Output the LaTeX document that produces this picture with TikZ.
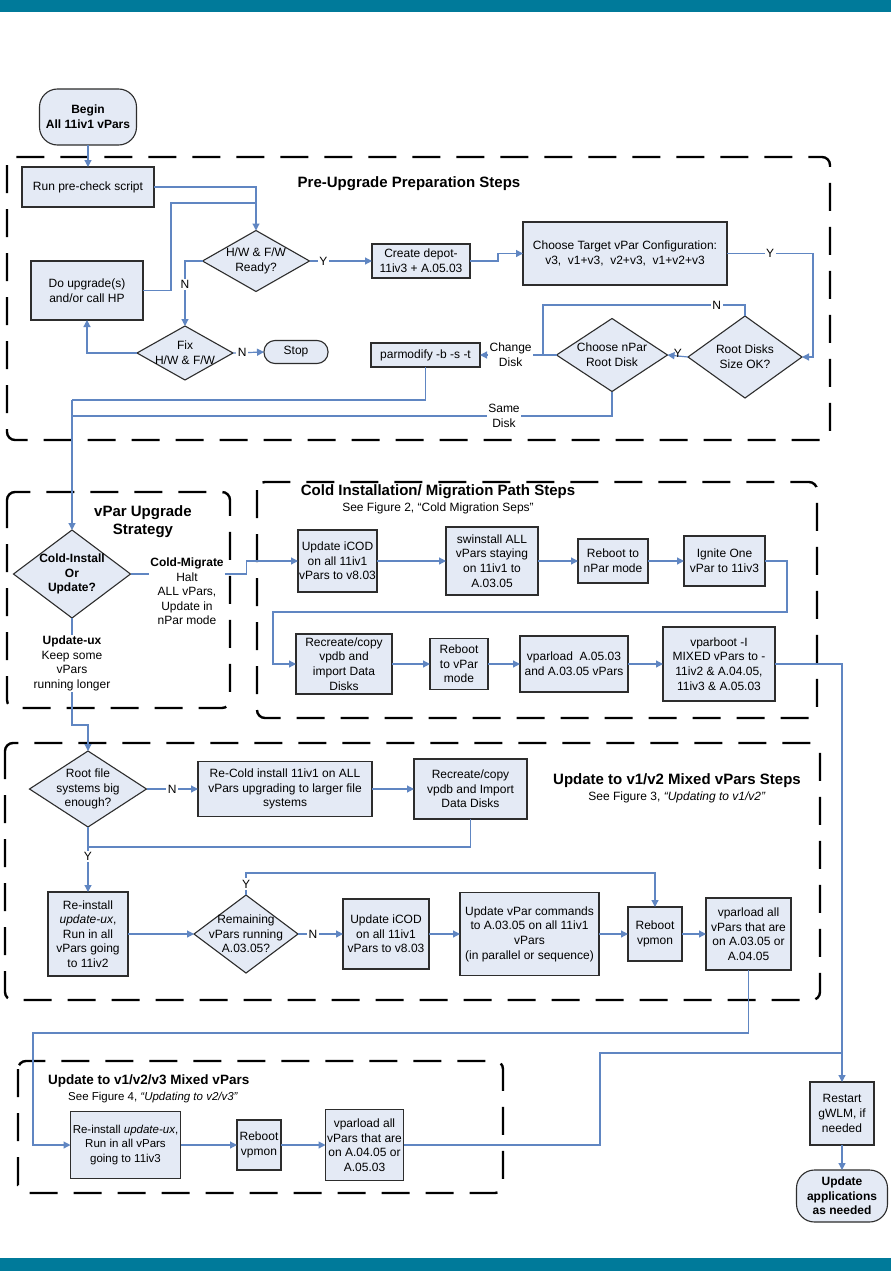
\documentclass[tikz,border=0pt]{standalone}
\usepackage{fontspec}
\setmainfont{Liberation Sans}
\usetikzlibrary{shapes.geometric,arrows.meta}
\definecolor{barcol}{RGB}{0,122,154}
\definecolor{boxfill}{RGB}{228,234,245}
\definecolor{boxline}{RGB}{45,45,45}
\definecolor{linecol}{RGB}{96,134,194}
\begin{document}
\begin{tikzpicture}[x=1pt,y=-1pt,
  every node/.style={font=\fontsize{12}{14.6}\selectfont},
  wh/.style 2 args={minimum width=#1pt,minimum height=#2pt},
  pbox/.style={draw=boxline,fill=boxfill,line width=1.1pt,align=center,inner sep=0pt,outer sep=0pt},
  pterm/.style={pbox,font=\fontsize{12}{14.6}\selectfont\bfseries},
  pdia/.style={diamond,draw=boxline,fill=boxfill,line width=1.1pt,inner sep=0pt,outer sep=0pt},
  dlbl/.style={align=center,inner sep=0pt},
  plain/.style={align=center,inner sep=1pt},
  conn/.style={draw=linecol,line width=1.2pt},
  arr/.style={conn,-{Triangle[length=7pt,width=7pt]}},
  yn/.style={inner sep=1pt,align=center},
  ynw/.style={inner sep=1.5pt,align=center,fill=white},
  cont/.style={draw=black,line width=2.4pt,dash pattern=on 28pt off 16pt,rounded corners=8pt},
  ttl/.style={font=\fontsize{15}{18}\selectfont\bfseries,align=center,inner sep=0pt},
  subt/.style={font=\fontsize{12}{14}\selectfont,inner sep=0pt}
]
\fill[white] (0,0) rectangle (891,1271);
\useasboundingbox (0,0) rectangle (891,1271);
\fill[barcol] (0,0) rectangle (891,12);
\fill[barcol] (0,1258) rectangle (891,1271);

% containers
\draw[cont] (7,157) rectangle (830,440);
\draw[cont] (7,492) rectangle (230,708);
\draw[cont] (257,482) rectangle (817,718);
\draw[cont] (5,743) rectangle (820,1000);
\draw[cont] (18,1061) rectangle (503,1193);

% titles
\node[ttl] (tpre) at (409,184) {Pre-Upgrade Preparation Steps};
\node[ttl] (tvpar) at (143,522) {vPar Upgrade\\Strategy};
\node[ttl] (tcold) at (438,492) {Cold Installation/ Migration Path Steps};
\node[subt] (scold) at (438,508) {See Figure 2, \textquotedblleft Cold Migration Seps\textquotedblright};
\node[ttl] (tv12) at (677,781) {Update to v1/v2 Mixed vPars Steps};
\node[subt] (sv12) at (677,797) {See Figure 3, \textit{\textquotedblleft Updating to v1/v2\textquotedblright}};
\node[ttl,font=\fontsize{13.5}{16}\selectfont\bfseries,anchor=west] (tv3) at (48,1081) {Update to v1/v2/v3 Mixed vPars};
\node[subt,font=\fontsize{11.5}{14}\selectfont,anchor=west] (sv3) at (68,1098) {See Figure 4, \textit{\textquotedblleft Updating to v2/v3\textquotedblright}};

% pre-upgrade
\node[pterm,wh={97}{56},rounded corners=18pt] (begin) at (88,117) {Begin\\All 11iv1 vPars};
\node[pbox,wh={132}{40}] (run) at (88,187) {Run pre-check script};
\node[pdia,wh={107}{61}] (hw) at (256,261) {};
\node[dlbl] (hwT) at (hw) {H/W \& F/W\\Ready?};
\node[pbox,wh={112}{59}] (doup) at (87,290.5) {Do upgrade(s)\\and/or call HP};
\node[pdia,wh={96}{54}] (fix) at (185,353) {};
\node[dlbl] (fixT) at (fix) {Fix\\H/W \& F/W};
\node[pbox,wh={64}{23},rounded corners=11pt] (stop) at (296,352) {Stop};
\node[pbox,wh={98}{34}] (depot) at (421,261) {Create depot-\\11iv3 + A.05.03};
\node[pbox,wh={204}{63}] (target) at (625,253.5) {Choose Target vPar Configuration:\\v3,\ \ v1+v3,\ \ v2+v3,\ \ v1+v2+v3};
\node[pdia,wh={114}{82}] (root) at (745,357) {};
\node[dlbl] (rootT) at (root) {Root Disks\\Size OK?};
\node[pdia,wh={111}{73}] (npar) at (612,355) {};
\node[dlbl] (nparT) at (npar) {Choose nPar\\Root Disk};
\node[pbox,wh={109}{24}] (parm) at (425.5,355) {parmodify -b -s -t};

% strategy
\node[pdia,wh={117}{88}] (ci) at (72,574) {};
\node[dlbl,font=\fontsize{12}{14.6}\selectfont\bfseries] (ciT) at (ci) {Cold-Install\\Or\\Update?};
\node[plain] (cm) at (187,591.5) {\textbf{Cold-Migrate}\\Halt\\ALL vPars,\\Update in\\nPar mode};
\node[plain] (ux) at (72,663.5) {\textbf{Update-ux}\\Keep some\\vPars\\running longer};

% cold migration
\node[pbox,wh={79}{62}] (icod1) at (337.5,561) {Update iCOD\\on all 11iv1\\vPars to v8.03};
\node[pbox,wh={92}{68}] (swin) at (492,561) {swinstall ALL\\vPars staying\\on 11iv1 to\\A.03.05};
\node[pbox,wh={70}{44}] (rbn) at (613,561) {Reboot to\\nPar mode};
\node[pbox,wh={81}{50}] (ign) at (724.5,561) {Ignite One\\vPar to 11iv3};
\node[pbox,wh={96}{60}] (recr) at (344,664) {Recreate/copy\\vpdb and\\import Data\\Disks};
\node[pbox,wh={58}{51}] (rbv) at (459,664) {Reboot\\to vPar\\mode};
\node[pbox,wh={108}{56}] (vpl) at (574,664) {vparload\ \ A.05.03\\and A.03.05 vPars};
\node[pbox,wh={112}{74}] (vpb) at (719,664) {vparboot -I\\MIXED vPars to -\\11iv2 \& A.04.05,\\11iv3 \& A.05.03};

% v1/v2
\node[pdia,wh={117}{76}] (rootfs) at (88,789) {};
\node[dlbl] (rootfsT) at (rootfs) {Root file\\systems big\\enough?};
\node[pbox,wh={174}{55}] (recold) at (285,789) {Re-Cold install 11iv1 on ALL\\vPars upgrading to larger file\\systems};
\node[pbox,wh={113}{60}] (recr2) at (470.5,789) {Recreate/copy\\vpdb and Import\\Data Disks};
\node[pbox,wh={80}{84}] (reinst) at (88,934) {Re-install\\\textit{update-ux},\\Run in all\\vPars going\\to 11iv2};
\node[pdia,wh={104}{78}] (remain) at (246,934) {};
\node[dlbl] (remainT) at (remain) {Remaining\\vPars running\\A.03.05?};
\node[pbox,wh={86}{70}] (icod2) at (386,934) {Update iCOD\\on all 11iv1\\vPars to v8.03};
\node[pbox,wh={139}{83}] (upd) at (529.5,934) {Update vPar commands\\to A.03.05 on all 11iv1\\vPars\\(in parallel or sequence)};
\node[pbox,wh={54}{54}] (rbv2) at (655,934) {Reboot\\vpmon};
\node[pbox,wh={85}{72}] (vpl2) at (748.5,934) {vparload all\\vPars that are\\on A.03.05 or\\A.04.05};

% v1/v2/v3
\node[pbox,wh={110}{67},font=\fontsize{11.5}{14.6}\selectfont] (reinst3) at (125.5,1145) {Re-install \textit{update-ux},\\Run in all vPars\\going to 11iv3};
\node[pbox,wh={44}{50}] (rbv3) at (259,1145) {Reboot\\vpmon};
\node[pbox,wh={78}{71}] (vpl3) at (364.5,1145) {vparload all\\vPars that are\\on A.04.05 or\\A.05.03};
\node[pbox,wh={64}{63}] (restart) at (842,1113.5) {Restart\\gWLM, if\\needed};
\node[pterm,wh={91}{52},rounded corners=18pt] (final) at (842,1196) {Update\\applications\\as needed};

% connectors: pre-upgrade
\draw[arr] (begin.south) -- (run.north);
\draw[arr] (run.east) -| (hw.north);
\coordinate (j1) at (256,203);
\draw[conn] (doup.east) -- ++(28,0) |- (j1);
\draw[arr] (hw.west) -| node[ynw,pos=0.68]{N} (fix.north);
\draw[arr] (fix.west) -| (doup.south);
\draw[arr] (fix.east) -- node[ynw,pos=0.3]{N} (stop.west);
\draw[arr] (hw.east) -- node[ynw,pos=0.22]{Y} (depot.west);
\draw[arr] (depot.east) -- ++(28,0) |- (target.west);
\coordinate (c1) at (813,357);
\draw[arr] (target.east) -| node[ynw,pos=0.25]{Y} (c1) -- (root.east);
\coordinate (c2a) at (745,305);
\coordinate (c2) at (543,355);
\draw[conn] (root.north) -- (c2a) -| node[ynw,pos=0.07]{N} (c2);
\draw[arr] (root.west) -- node[yn,above=-3pt]{Y} (npar.east);
\draw[arr] (npar.west) -- node[ynw,pos=0.6]{Change\\Disk} (parm.east);
\coordinate (c3) at (72,400);
\draw[conn] (parm.south) |- (c3);
\draw[arr] (c3) -- (ci.north);
\coordinate (c4) at (72,416);
\draw[conn] (npar.south) |- node[ynw,pos=0.6]{Same\\Disk} (c4);

% strategy / cold
\draw[conn] (ci.east) -- (ci.east -| cm.west);
\draw[arr] (ci.east -| cm.east) -- ++(22,0) |- (icod1.west);
\draw[conn] (ci.south) -- (ux.north);
\coordinate (c6) at (72,725);
\draw[arr] (ux.south) -- (c6) -| (rootfs.north);
\draw[arr] (icod1.east) -- (swin.west);
\draw[arr] (swin.east) -- (rbn.west);
\draw[arr] (rbn.east) -- (ign.west);
\coordinate (c7) at (787,612);
\coordinate (c8) at (273,612);
\draw[arr] (ign.east) -| (c7) -- (c8) |- (recr.west);
\draw[arr] (recr.east) -- (rbv.west);
\draw[arr] (rbv.east) -- (vpl.west);
\draw[arr] (vpl.east) -- (vpb.west);
\draw[arr] (vpb.east) -| (restart.north);

% v1/v2
\draw[arr] (rootfs.east) -- node[ynw]{N} (recold.west);
\draw[arr] (recold.east) -- (recr2.west);
\coordinate (c10) at (88,847);
\draw[conn] (recr2.south) |- (c10);
\draw[arr] (rootfs.south) -- node[ynw,pos=0.45]{Y} (reinst.north);
\draw[arr] (reinst.east) -- (remain.west);
\coordinate (c11) at (246,873);
\draw[arr] (remain.north) -- node[ynw]{Y} (c11) -| (rbv2.north);
\draw[arr] (remain.east) -- node[ynw,pos=0.33]{N} (icod2.west);
\draw[arr] (icod2.east) -- (upd.west);
\draw[arr] (upd.east) -- (rbv2.west);
\draw[arr] (rbv2.east) -- (vpl2.west);
\coordinate (c12) at (33,1033);
\draw[arr] (vpl2.south) |- (c12) |- (reinst3.west);

% v1/v2/v3
\draw[arr] (reinst3.east) -- (rbv3.west);
\draw[arr] (rbv3.east) -- (vpl3.west);
\coordinate (c13) at (600,1053);
\coordinate (c14) at (842,1053);
\draw[conn] (vpl3.east) -| (c13) -- (c14);
\draw[arr] (restart.south) -- (final.north);
\end{tikzpicture}
\end{document}
